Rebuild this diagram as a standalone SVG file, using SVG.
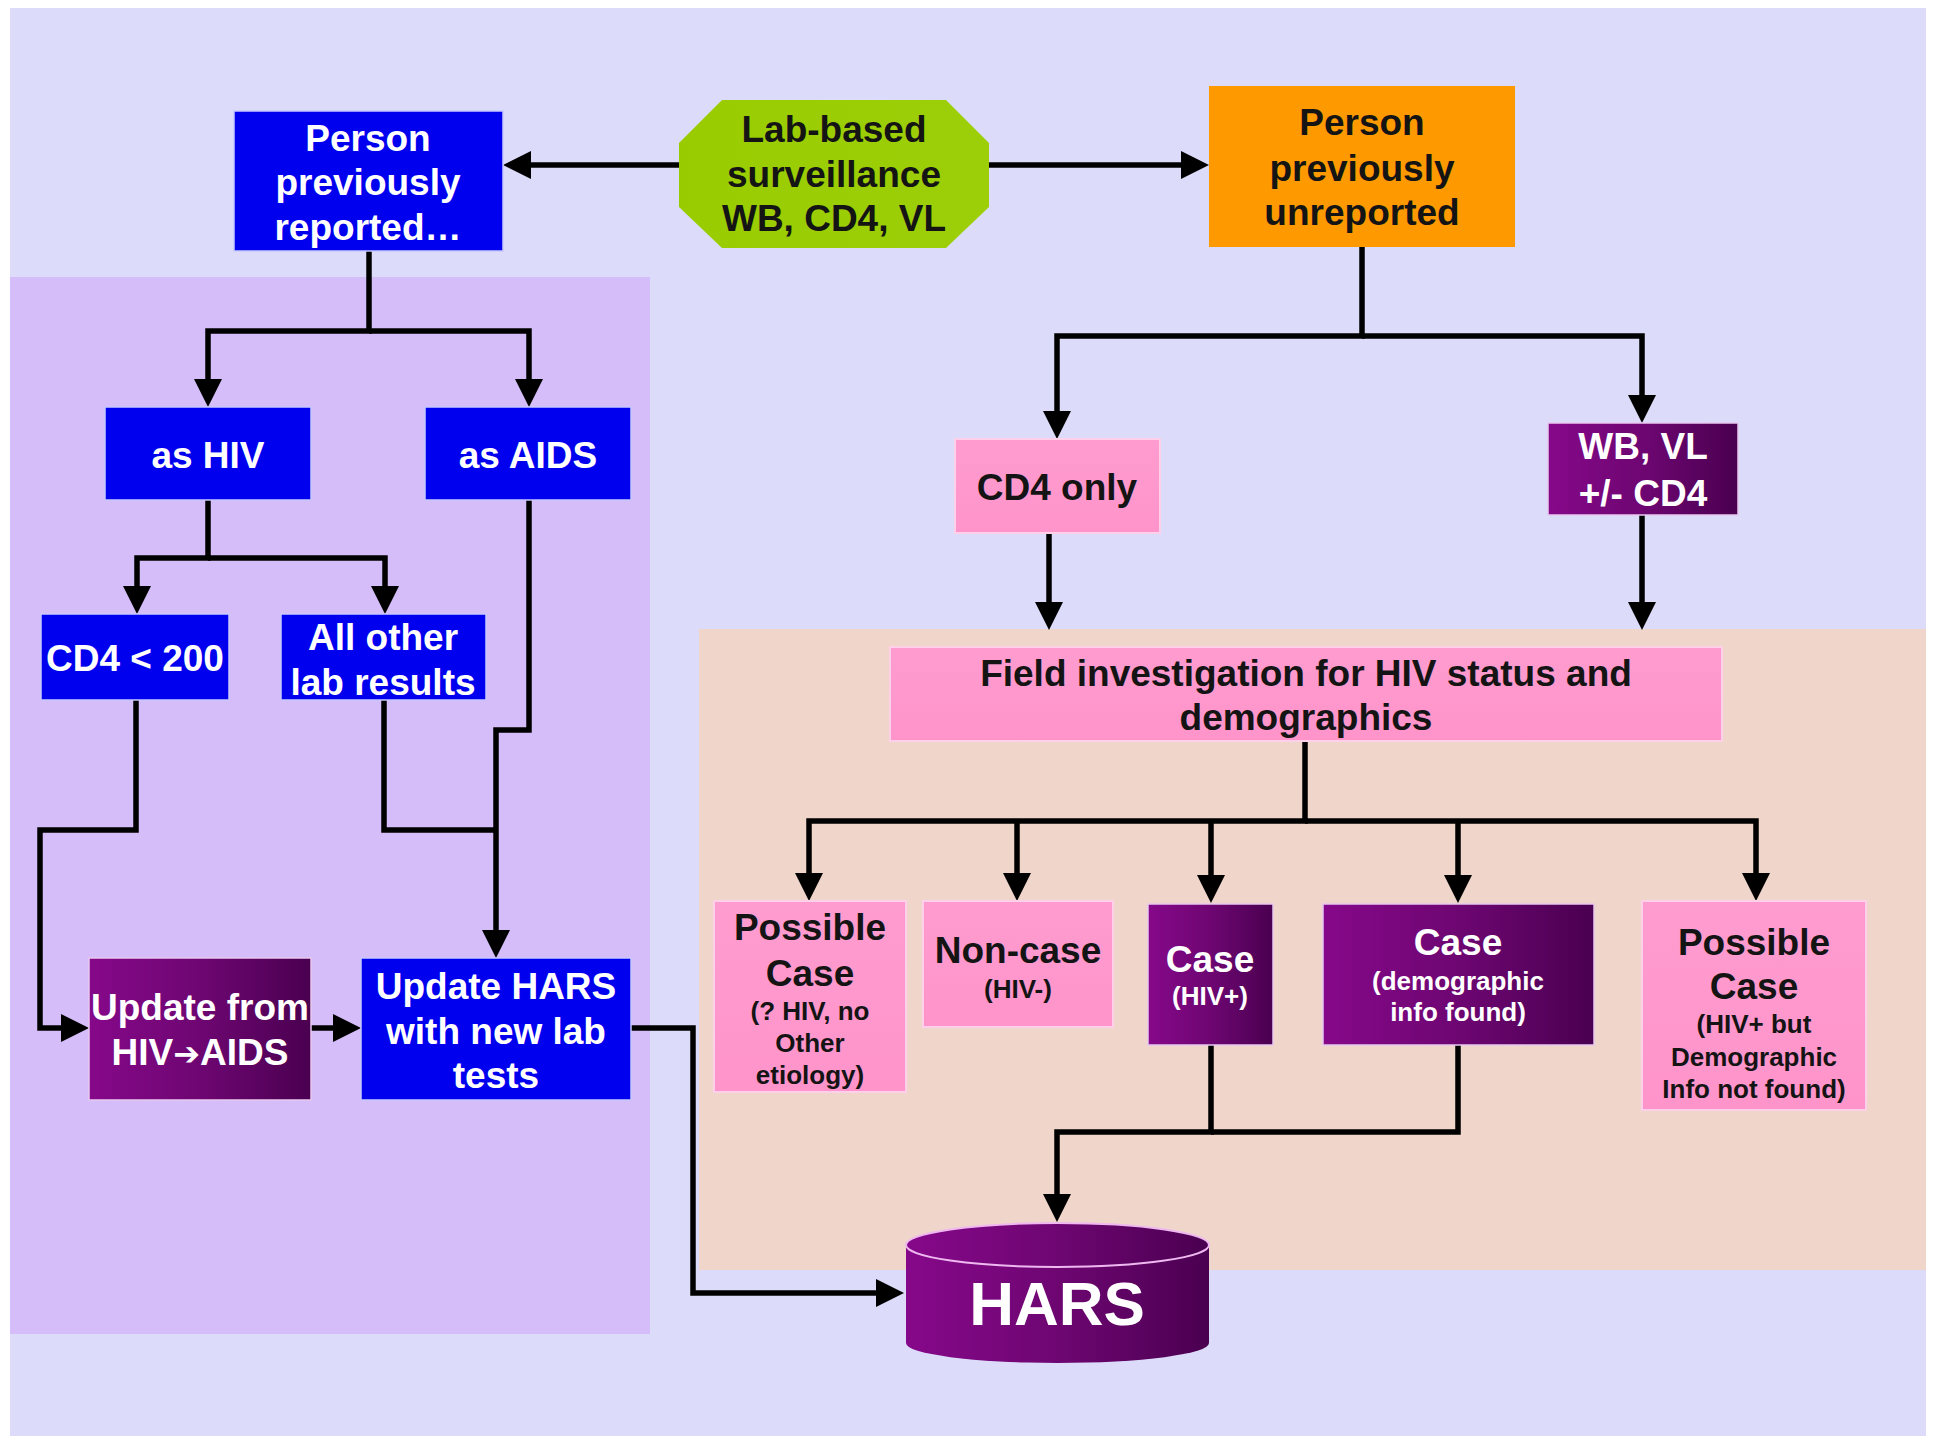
<svg xmlns="http://www.w3.org/2000/svg" width="1933" height="1439" viewBox="0 0 1933 1439">
<defs>
<style>
text{font-family:"Liberation Sans",Arial,sans-serif;font-weight:bold;text-anchor:middle}
.w{fill:#ffffff}
.d{fill:#141414}
.l{font-size:37px}
.s{font-size:26px}
.blue{fill:#0000EE;stroke:#c8c8ff;stroke-width:1.5}
.pink{fill:url(#gPink);stroke:#ffd0ea;stroke-width:2}
.purp{fill:url(#gPurp);stroke:#e8c8f0;stroke-width:1.5}
.c{fill:none;stroke:#000;stroke-width:5.5;stroke-linejoin:miter}
.a{marker-end:url(#ah)}
.sym{font-family:"DejaVu Sans",sans-serif}
</style>
<marker id="ah" viewBox="0 0 10 10" refX="6.43" refY="5" markerWidth="28" markerHeight="30" orient="auto" markerUnits="userSpaceOnUse">
<path d="M0,0 L10,5 L0,10 Z" fill="#000"/>
</marker>
<linearGradient id="gPurp" x1="0" y1="0" x2="1" y2="0">
<stop offset="0" stop-color="#86088a"/>
<stop offset="0.5" stop-color="#6e0672"/>
<stop offset="1" stop-color="#4a0050"/>
</linearGradient>
<linearGradient id="gPink" x1="0" y1="0" x2="0" y2="1">
<stop offset="0" stop-color="#ff9ccf"/>
<stop offset="1" stop-color="#ff94ca"/>
</linearGradient>
<linearGradient id="gGreen" x1="0" y1="0" x2="1" y2="0">
<stop offset="0" stop-color="#99cc00"/>
<stop offset="1" stop-color="#9ccf08"/>
</linearGradient>
</defs>
<rect x="0" y="0" width="1933" height="1439" fill="#ffffff"/>
<rect x="10" y="8" width="1916" height="1428" fill="#dcdcfa"/>
<rect id="panel-left" x="10" y="277" width="640" height="1057" fill="#d4bdf8"/>
<rect id="panel-right" x="699" y="629" width="1227" height="641" fill="#efd5ca"/>

<g id="connectors">
<path class="c a" d="M679,165 H513"/>
<path class="c a" d="M989,165 H1199"/>
<path class="c a" d="M369,251 V331 H208 V397"/>
<path class="c a" d="M369,331 H529 V397"/>
<path class="c a" d="M208,500 V558 H137 V604"/>
<path class="c a" d="M208,558 H385 V604"/>
<path class="c a" d="M136,700 V830 H40 V1028 H79"/>
<path class="c a" d="M529,500 V730 H496 V948"/>
<path class="c" d="M384,700 V830 H496"/>
<path class="c a" d="M311,1028 H351"/>
<path class="c a" d="M631,1028 H693 V1293 H894"/>
<path class="c a" d="M1362,247 V336 H1057 V429"/>
<path class="c a" d="M1362,336 H1642 V413"/>
<path class="c a" d="M1049,533 V620"/>
<path class="c a" d="M1642,515 V620"/>
<path class="c a" d="M1305,741 V821 H809 V891"/>
<path class="c a" d="M1305,821 H1756 V891"/>
<path class="c a" d="M1017,821 V891"/>
<path class="c a" d="M1211,821 V893"/>
<path class="c a" d="M1458,821 V893"/>
<path class="c a" d="M1211,1045 V1132 H1057 V1212"/>
<path class="c" d="M1458,1045 V1132 H1211"/>
</g>

<g id="n-lab">
<polygon points="722,100 946,100 989,143 989,207 946,248 722,248 679,207 679,143" fill="url(#gGreen)"/>
<text class="d l" x="834" y="142">Lab-based</text>
<text class="d l" x="834" y="187">surveillance</text>
<text class="d l" x="834" y="231">WB, CD4, VL</text>
</g>
<g id="n-reported">
<rect class="blue" x="234" y="111" width="269" height="140"/>
<text class="w l" x="368" y="151">Person</text>
<text class="w l" x="368" y="195">previously</text>
<text class="w l" x="368" y="240">reported…</text>
</g>
<g id="n-unreported">
<rect x="1209" y="86" width="306" height="161" fill="#ff9900"/>
<text class="d l" x="1362" y="135">Person</text>
<text class="d l" x="1362" y="181">previously</text>
<text class="d l" x="1362" y="225">unreported</text>
</g>
<g id="n-ashiv">
<rect class="blue" x="105" y="407" width="206" height="93"/>
<text class="w l" x="208" y="468">as HIV</text>
</g>
<g id="n-asaids">
<rect class="blue" x="425" y="407" width="206" height="93"/>
<text class="w l" x="528" y="468">as AIDS</text>
</g>
<g id="n-cd4lt200">
<rect class="blue" x="41" y="614" width="188" height="86"/>
<text class="w l" x="135" y="671">CD4 &lt; 200</text>
</g>
<g id="n-allother">
<rect class="blue" x="281" y="614" width="205" height="86"/>
<text class="w l" x="383" y="650">All other</text>
<text class="w l" x="383" y="695">lab results</text>
</g>
<g id="n-updatefrom">
<rect class="purp" x="89" y="958" width="222" height="142"/>
<text class="w l" x="200" y="1020">Update from</text>
<text class="w l" x="200" y="1065">HIV<tspan class="sym" style="font-size:32px">➔</tspan>AIDS</text>
</g>
<g id="n-updatehars">
<rect class="blue" x="361" y="958" width="270" height="142"/>
<text class="w l" x="496" y="999">Update HARS</text>
<text class="w l" x="496" y="1044">with new lab</text>
<text class="w l" x="496" y="1088">tests</text>
</g>
<g id="n-cd4only">
<rect class="pink" x="955" y="439" width="205" height="94"/>
<text class="d l" x="1057" y="500">CD4 only</text>
</g>
<g id="n-wbvl">
<rect class="purp" x="1548" y="423" width="190" height="92"/>
<text class="w l" x="1643" y="459">WB, VL</text>
<text class="w l" x="1643" y="506">+/- CD4</text>
</g>
<g id="n-field">
<rect class="pink" x="890" y="647" width="832" height="94"/>
<text class="d l" x="1306" y="686">Field investigation for HIV status and</text>
<text class="d l" x="1306" y="730">demographics</text>
</g>
<g id="n-possible1">
<rect class="pink" x="714" y="901" width="192" height="191"/>
<text class="d l" x="810" y="940">Possible</text>
<text class="d l" x="810" y="986">Case</text>
<text class="d s" x="810" y="1020">(? HIV, no</text>
<text class="d s" x="810" y="1052">Other</text>
<text class="d s" x="810" y="1084">etiology)</text>
</g>
<g id="n-noncase">
<rect class="pink" x="923" y="901" width="190" height="126"/>
<text class="d l" x="1018" y="963">Non-case</text>
<text class="d s" x="1018" y="998">(HIV-)</text>
</g>
<g id="n-casehiv">
<rect class="purp" x="1148" y="904" width="125" height="141"/>
<text class="w l" x="1210" y="972">Case</text>
<text class="w s" x="1210" y="1005">(HIV+)</text>
</g>
<g id="n-casedemo">
<rect class="purp" x="1323" y="904" width="271" height="141"/>
<text class="w l" x="1458" y="955">Case</text>
<text class="w s" x="1458" y="990">(demographic</text>
<text class="w s" x="1458" y="1021">info found)</text>
</g>
<g id="n-possible2">
<rect class="pink" x="1642" y="901" width="224" height="209"/>
<text class="d l" x="1754" y="955">Possible</text>
<text class="d l" x="1754" y="999">Case</text>
<text class="d s" x="1754" y="1033">(HIV+ but</text>
<text class="d s" x="1754" y="1066">Demographic</text>
<text class="d s" x="1754" y="1098">Info not found)</text>
</g>
<g id="n-hars">
<path d="M906,1245 V1343 A151.5,20 0 0 0 1209,1343 V1245 Z" fill="url(#gPurp)"/>
<ellipse cx="1057.5" cy="1245" rx="151.5" ry="22" fill="url(#gPurp)" stroke="#f0b8f0" stroke-width="2"/>
<text class="w" x="1057" y="1325" style="font-size:62px">HARS</text>
</g>
</svg>
